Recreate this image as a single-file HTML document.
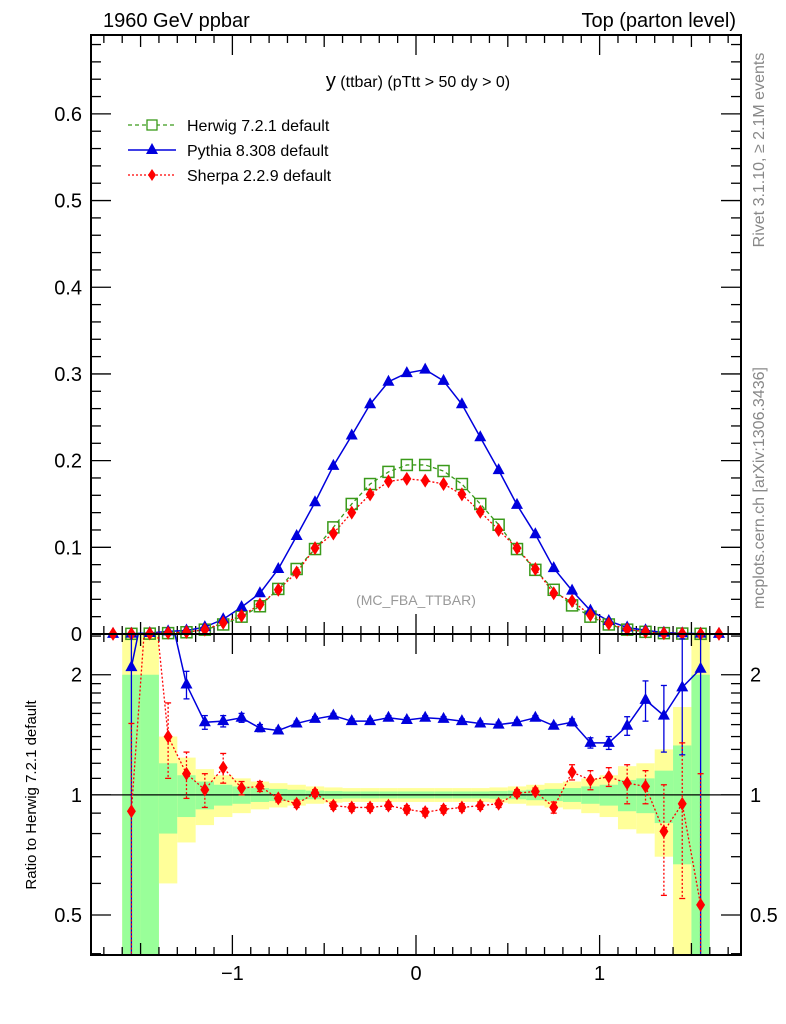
<!DOCTYPE html>
<html><head><meta charset="utf-8"><style>
html,body{margin:0;padding:0;background:#fff;}
svg{display:block;font-family:"Liberation Sans",sans-serif;}
</style></head><body>
<svg id="chart" width="786" height="1024" viewBox="0 0 786 1024" xmlns="http://www.w3.org/2000/svg">
<text x="103" y="27" font-size="20">1960 GeV ppbar</text>
<text x="736" y="27" font-size="20" text-anchor="end">Top (parton level)</text>
<text x="418" y="87" font-size="16" text-anchor="middle"><tspan font-size="20">y</tspan> (ttbar) (pTtt &gt; 50 dy &gt; 0)</text>
<text x="416" y="605" font-size="14" fill="#999" text-anchor="middle">(MC_FBA_TTBAR)</text>
<text transform="translate(764,150) rotate(-90)" font-size="16" fill="#888" text-anchor="middle">Rivet 3.1.10, ≥ 2.1M events</text>
<text transform="translate(764,488) rotate(-90)" font-size="16" fill="#888" text-anchor="middle">mcplots.cern.ch [arXiv:1306.3436]</text>
<text transform="translate(36,795) rotate(-90)" font-size="15" text-anchor="middle">Ratio to Herwig 7.2.1 default</text>
<g id="bands"></g>
<g id="ticks"></g>
<g id="series"></g>
<rect x="91" y="35" width="650" height="599" fill="none" stroke="#000" stroke-width="2"/>
<rect x="91" y="634" width="650" height="321" fill="none" stroke="#000" stroke-width="2"/>
<g>
 <g>
  <line x1="128" y1="125" x2="176" y2="125" stroke="#3a9a1a" stroke-width="1.3" stroke-dasharray="4,3"/>
  <rect x="147" y="120" width="10" height="10" fill="#fff" stroke="#3a9a1a" stroke-width="1.3"/>
  <text x="187" y="131" font-size="16">Herwig 7.2.1 default</text>
 </g>
 <g>
  <line x1="128" y1="150" x2="176" y2="150" stroke="#0000dd" stroke-width="1.5"/>
  <polygon points="152,143 158,154 146,154" fill="#0000dd"/>
  <text x="187" y="156" font-size="16">Pythia 8.308 default</text>
 </g>
 <g>
  <line x1="128" y1="175" x2="176" y2="175" stroke="#f00" stroke-width="1.3" stroke-dasharray="2,2"/>
  <polygon points="152,169 156,175 152,181 148,175" fill="#f00"/>
  <text x="187" y="181" font-size="16">Sherpa 2.2.9 default</text>
 </g>
</g>
</svg>
<script>
const binCenters=[-1.65,-1.55,-1.45,-1.35,-1.25,-1.15,-1.05,-0.95,-0.85,-0.75,-0.65,-0.55,-0.45,-0.35,-0.25,-0.15,-0.05,0.05,0.15,0.25,0.35,0.45,0.55,0.65,0.75,0.85,0.95,1.05,1.15,1.25,1.35,1.45,1.55,1.65];
const herwigValues=[0.0001,0.0002,0.0004,0.001,0.002,0.005,0.011,0.020,0.032,0.052,0.075,0.098,0.123,0.150,0.173,0.187,0.195,0.195,0.188,0.173,0.150,0.126,0.098,0.074,0.051,0.033,0.020,0.011,0.005,0.0025,0.001,0.0005,0.0002,0.0001];
const pythiaValues=[0.0002,0.0004,0.0012,0.003,0.004,0.008,0.017,0.031,0.047,0.075,0.113,0.152,0.194,0.229,0.265,0.291,0.301,0.305,0.292,0.265,0.227,0.189,0.149,0.115,0.076,0.050,0.027,0.015,0.0075,0.0043,0.0016,0.0009,0.0004,0.0002];
const sherpaValues=[0.0001,0.0002,0.0006,0.0014,0.0023,0.005,0.013,0.021,0.034,0.051,0.071,0.099,0.116,0.140,0.161,0.176,0.179,0.177,0.173,0.161,0.141,0.120,0.099,0.075,0.047,0.038,0.022,0.012,0.0054,0.0026,0.0008,0.0005,0.0001,0.0001];
const herwigRelErr=[0,1.0,1.0,0.2,0.12,0.08,0.06,0.05,0.04,0.035,0.03,0.025,0.022,0.02,0.02,0.02,0.02,0.02,0.02,0.02,0.02,0.022,0.025,0.03,0.035,0.04,0.05,0.06,0.09,0.1,0.15,0.33,1.0,0];
const pythiaRatio=[null,2.09,3.5,3.0,1.89,1.52,1.53,1.56,1.47,1.45,1.51,1.55,1.58,1.53,1.53,1.56,1.54,1.56,1.55,1.53,1.51,1.50,1.52,1.56,1.49,1.52,1.35,1.35,1.49,1.73,1.58,1.86,2.07,null];
const pythiaRatioErr=[0,3,0.5,0.4,0.15,0.06,0.05,0.04,0.03,0.02,0.02,0.02,0.02,0.02,0.02,0.02,0.02,0.02,0.02,0.02,0.02,0.02,0.02,0.02,0.02,0.03,0.04,0.05,0.08,0.2,0.3,0.6,3,0];
const sherpaRatio=[null,0.91,4.0,1.40,1.13,1.03,1.17,1.04,1.05,0.98,0.95,1.01,0.94,0.93,0.93,0.94,0.92,0.905,0.92,0.93,0.94,0.95,1.01,1.02,0.93,1.14,1.09,1.11,1.07,1.05,0.81,0.95,0.53,null];
const sherpaRatioErr=[0,0.6,1,0.3,0.15,0.1,0.1,0.04,0.03,0.02,0.02,0.02,0.02,0.02,0.02,0.02,0.02,0.02,0.02,0.02,0.02,0.02,0.02,0.02,0.03,0.05,0.06,0.06,0.12,0.1,0.25,0.4,0.6,0];
const mainTicks=[0,0.1,0.2,0.3,0.4,0.5,0.6];
const ratioTicks=[0.5,1,2];
const xTicks=[-1,0,1];

const NS="http://www.w3.org/2000/svg";
const X0=91,X1=741,XMIN=-1.77,XMAX=1.77;
const sx=v=>X0+(v-XMIN)/(XMAX-XMIN)*(X1-X0);
const MY0=634,MY1=35,MMAX=0.691;
const sy=v=>MY0-v/MMAX*(MY0-MY1);
const RY0=955,RY1=634,RMIN=Math.log2(0.397),RMAX=Math.log2(2.53);
const ry=v=>RY0-(Math.log2(v)-RMIN)/(RMAX-RMIN)*(RY0-RY1);
const cl=(y,a,b)=>Math.max(a,Math.min(b,y));
function mk(tag,attrs,parent){const e=document.createElementNS(NS,tag);for(const k in attrs)e.setAttribute(k,attrs[k]);parent.appendChild(e);return e;}
const gB=document.getElementById('bands'),gT=document.getElementById('ticks'),gS=document.getElementById('series');

binCenters.forEach((c,i)=>{const e=herwigRelErr[i];if(!e)return;
 const xa=sx(c-0.05),xb=sx(c+0.05);
 const yTop=cl(ry(Math.max(1+2*e,0.01)),RY1,RY0),yBot=(1-2*e)<=0.397?RY0:cl(ry(1-2*e),RY1,RY0);
 const y=mk('rect',{x:xa,y:yTop,width:xb-xa,height:yBot-yTop,fill:'#ffff99'},gB);
 
 
 const gTop=cl(ry(1+e),RY1,RY0),gBot=(1-e)<=0.397?RY0:cl(ry(1-e),RY1,RY0);
 const g=mk('rect',{x:xa,y:gTop,width:xb-xa,height:gBot-gTop,fill:'#99ff99'},gB);
 
 
});
const ul=mk('line',{x1:X0,x2:X1,y1:ry(1),y2:ry(1),stroke:'#000','stroke-width':1.3},gB);



function tk(x1,y1,x2,y2){mk('line',{x1,y1,x2,y2,stroke:'#000','stroke-width':1.3},gT);}
for(let k=-17;k<=17;k++){const v=k/10,x=sx(v);const maj=k%10===0,mid=k%5===0;const L=maj?20:(mid?12:8);
 tk(x,MY1,x,MY1+L);tk(x,MY0,x,MY0-L);tk(x,RY1,x,RY1+L);tk(x,RY0,x,RY0-L);}
for(let k=0;k<=34;k++){const v=k*0.02,y=sy(v);const L=(k%5===0)?20:10;tk(X0,y,X0+L,y);tk(X1,y,X1-L,y);}
[0.4,0.5,0.6,0.7,0.8,0.9,1,1.1,1.2,1.3,1.4,1.5,1.6,1.7,1.8,1.9,2,2.5].forEach(v=>{const y=ry(v);const L=ratioTicks.includes(v)?20:10;tk(X0,y,X0+L,y);tk(X1,y,X1-L,y);});
mainTicks.forEach(v=>{const t=mk('text',{x:82,y:sy(v)+7,'font-size':20,'text-anchor':'end'},gT);t.textContent=String(v);
 
 });
ratioTicks.forEach(v=>{[[82,'end'],[750,'start']].forEach(([x,a])=>{const t=mk('text',{x:x,y:ry(v)+7,'font-size':20,'text-anchor':a},gT);t.textContent=String(v);
 
 });});
xTicks.forEach(v=>{const t=mk('text',{x:sx(v),y:980,'font-size':20,'text-anchor':'middle'},gT);t.textContent=v<0?'\u2212'+Math.abs(v):String(v);
 
 });

function tri(x,y,c,p){mk('polygon',{points:`${x},${y-7} ${x+6},${y+4} ${x-6},${y+4}`,fill:c},p);}
function dia(x,y,c,p){mk('polygon',{points:`${x},${y-7} ${x+4.5},${y} ${x},${y+7} ${x-4.5},${y}`,fill:c},p);}
function line(vals,fy,color,dash,w,name){const pts=binCenters.map((c,i)=>vals[i]==null?null:[sx(c),fy(vals[i])]).filter(p=>p);
 const l=mk('polyline',{points:pts.map(p=>p.join(',')).join(' '),fill:'none',stroke:color,'stroke-width':w,'stroke-dasharray':dash},gS);
 
 }
line(herwigValues,sy,'#3a9a1a','4,3',1.3,'herwig-line');
line(pythiaValues,sy,'#0000dd','none',1.5,'pythia-line');
line(sherpaValues,sy,'#f00','2,2',1.3,'sherpa-line');
binCenters.forEach((c,i)=>{const x=sx(c);
 if(Math.abs(c)<1.6){const r=mk('rect',{x:x-5.5,y:sy(herwigValues[i])-5.5,width:11,height:11,fill:'none',stroke:'#3a9a1a','stroke-width':1.5},gS);
 
 }
 tri(x,sy(pythiaValues[i]),'#0000dd',gS);dia(x,sy(sherpaValues[i]),'#f00',gS);});
const clip=mk('clipPath',{id:'rc'},gS);mk('rect',{x:X0,y:RY1,width:X1-X0,height:RY0-RY1},clip);
const gr=mk('g',{'clip-path':'url(#rc)'},gS);


function rline(vals,errs,color,dash,w,marker){const pts=[];binCenters.forEach((c,i)=>{if(vals[i]==null)return;pts.push([sx(c),ry(vals[i])]);});
 mk('polyline',{points:pts.map(p=>p.join(',')).join(' '),fill:'none',stroke:color,'stroke-width':w,'stroke-dasharray':dash},gr);
 binCenters.forEach((c,i)=>{if(vals[i]==null)return;const x=sx(c),v=vals[i],e=errs[i];
  const yt=ry(v+e),yb=(v-e)<=0.05?RY0+5:ry(v-e);
  if(yb-yt>4){mk('line',{x1:x,x2:x,y1:yt,y2:yb,stroke:color,'stroke-width':1.3,'stroke-dasharray':dash},gr);
   mk('line',{x1:x-3,x2:x+3,y1:yt,y2:yt,stroke:color,'stroke-width':1.3},gr);mk('line',{x1:x-3,x2:x+3,y1:yb,y2:yb,stroke:color,'stroke-width':1.3},gr);}
  marker(x,ry(v),color,gr);});}
rline(pythiaRatio,pythiaRatioErr,'#0000dd','none',1.5,tri);
rline(sherpaRatio,sherpaRatioErr,'#f00','2,2',1.3,dia);
</script>
</body></html>
